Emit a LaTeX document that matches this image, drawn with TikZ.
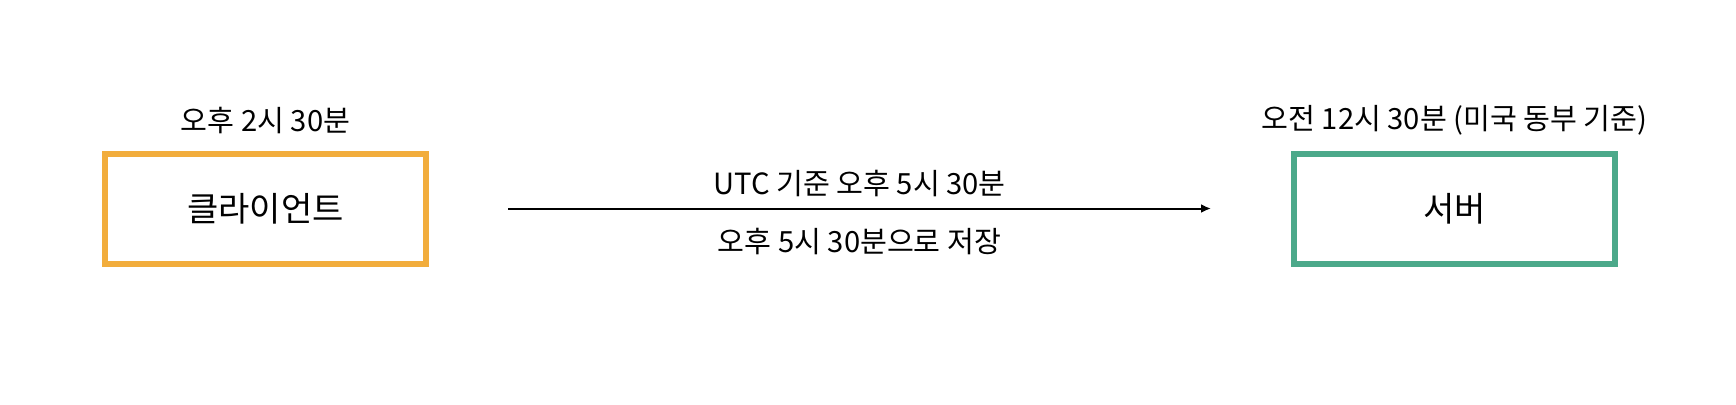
\documentclass[tikz,border=0pt]{standalone}
\usepackage{fontspec}
\setmainfont{Noto Sans CJK KR}
\usetikzlibrary{arrows.meta}
\definecolor{clientorange}{HTML}{F2AD3C}
\definecolor{servergreen}{HTML}{4CA98A}
\begin{document}
\begin{tikzpicture}[x=0.5pt,y=-0.5pt,
  boxstyle/.style={draw, line width=2.9pt, minimum width=160.5pt, minimum height=55pt, inner sep=0pt, font=\fontsize{17}{20}\selectfont},
  lbl/.style={font=\fontsize{14.6}{17}\selectfont, inner sep=0pt},
  conn/.style={line width=1pt, -{Latex[length=5pt,width=4.5pt]}}]
\useasboundingbox (0,0) rectangle (1736,404);
\node[boxstyle, draw=clientorange] (client) at (265.5,209) {클라이언트};
\node[boxstyle, draw=servergreen] (server) at (1454.5,209) {서버};
\node[lbl] (clientlbl) at (265.5,120) {오후 2시 30분};
\node[lbl] (serverlbl) at (1454.5,120) {오전 12시 30분 (미국 동부 기준)};
\coordinate (astart) at (508,208.5);
\coordinate (aend) at (1211,208.5);
\draw[conn] (astart) -- (aend);
\node[lbl] (toplbl) at (859.5,183) {UTC 기준 오후 5시 30분};
\node[lbl] (botlbl) at (859.5,241) {오후 5시 30분으로 저장};
\end{tikzpicture}
\end{document}
